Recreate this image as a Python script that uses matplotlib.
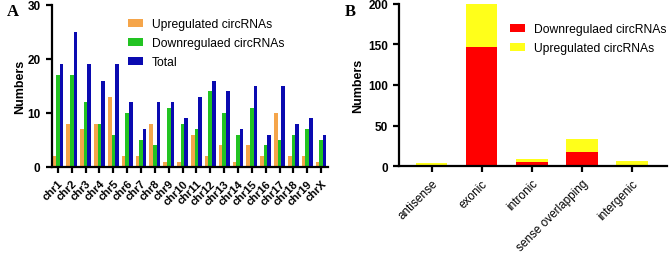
import numpy as np
import matplotlib
matplotlib.use("Agg")
import matplotlib.pyplot as plt

plt.rcParams['font.family'] = ['Liberation Sans', 'DejaVu Sans']

# panel A data
chroms = ['chr1', 'chr2', 'chr3', 'chr4', 'chr5', 'chr6', 'chr7', 'chr8', 'chr9', 'chr10',
          'chr11', 'chr12', 'chr13', 'chr14', 'chr15', 'chr16', 'chr17', 'chr18', 'chr19', 'chrX']
up_a = [2, 8, 7, 8, 13, 2, 2, 8, 1, 1, 6, 2, 4, 1, 4, 2, 10, 2, 2, 1]
down_a = [17, 17, 12, 8, 6, 10, 5, 4, 11, 8, 7, 14, 10, 6, 11, 4, 5, 6, 7, 5]
total_a = [19, 25, 19, 16, 19, 12, 7, 12, 12, 9, 13, 16, 14, 7, 15, 6, 15, 8, 9, 6]

# panel B data
types = ['antisense', 'exonic', 'intronic', 'sense overlapping', 'intergenic']
down_b = [1, 147, 5, 17, 0]
up_b = [3, 53, 4, 16, 6]

W, H = 669, 255
fig = plt.figure(figsize=(W / 100, H / 100), dpi=100)

axA = fig.add_axes([51.7 / W, 1 - 168 / H, (328 - 51.7) / W, (168 - 6) / H])
axB = fig.add_axes([399 / W, 1 - 167 / H, (667 - 399) / W, (167 - 5) / H])

def style(ax):
    for s in ['top', 'right']:
        ax.spines[s].set_visible(False)
    for s in ['left', 'bottom']:
        ax.spines[s].set_linewidth(1.6)
    ax.tick_params(width=1.6, length=4.5, direction='out')
    for lab in ax.get_yticklabels():
        lab.set_fontweight('bold')
        lab.set_fontsize(8.5)

# ---- A ----
x = np.arange(len(chroms))
bw = 0.26
axA.bar(x - bw, up_a, bw, color='#F5A54A', label='Upregulated circRNAs')
axA.bar(x, down_a, bw, color='#22C322', label='Downregulaed circRNAs')
axA.bar(x + bw, total_a, bw, color='#0A0AB0', label='Total')
axA.set_xlim(-0.45, len(chroms) - 0.5)
axA.set_ylim(0, 30)
axA.set_yticks([0, 10, 20, 30])
axA.set_xticks(x)
axA.set_xticklabels(chroms, rotation=45, ha='right', rotation_mode='anchor',
                    fontsize=8, fontweight='bold')
axA.set_ylabel('Numbers', fontsize=9, fontweight='bold', labelpad=1)
style(axA)
axA.legend(loc='upper left', bbox_to_anchor=(128 / W, 1 - 19 / H),
           bbox_transform=fig.transFigure, frameon=False, fontsize=8.7,
           borderpad=0, borderaxespad=0, handlelength=1.2, handleheight=0.6,
           handletextpad=0.8, labelspacing=0.6)

# ---- B ----
xb = np.arange(len(types))
axB.bar(xb, down_b, 0.63, color='#FF0000', label='Downregulaed circRNAs')
axB.bar(xb, up_b, 0.63, bottom=down_b, color='#FFFF1A', label='Upregulated circRNAs')
axB.set_xlim(-0.65, len(types) - 0.3)
axB.set_ylim(0, 200)
axB.set_yticks([0, 50, 100, 150, 200])
axB.set_xticks(xb)
axB.set_xticklabels(types, rotation=45, ha='right', rotation_mode='anchor', fontsize=8.5)
axB.set_ylabel('Numbers', fontsize=9, fontweight='bold', labelpad=3)
style(axB)
axB.legend(loc='upper left', bbox_to_anchor=(510 / W, 1 - 24 / H),
           bbox_transform=fig.transFigure, frameon=False, fontsize=8.7,
           borderpad=0, borderaxespad=0, handlelength=1.2, handleheight=0.6,
           handletextpad=0.8, labelspacing=0.6)

fig.text(7 / W, 1 - 12 / H, 'A', fontsize=12, fontweight='bold',
         family='Liberation Serif', va='center')
fig.text(345 / W, 1 - 12 / H, 'B', fontsize=12, fontweight='bold',
         family='Liberation Serif', va='center')

fig.savefig('out.png', dpi=100)
